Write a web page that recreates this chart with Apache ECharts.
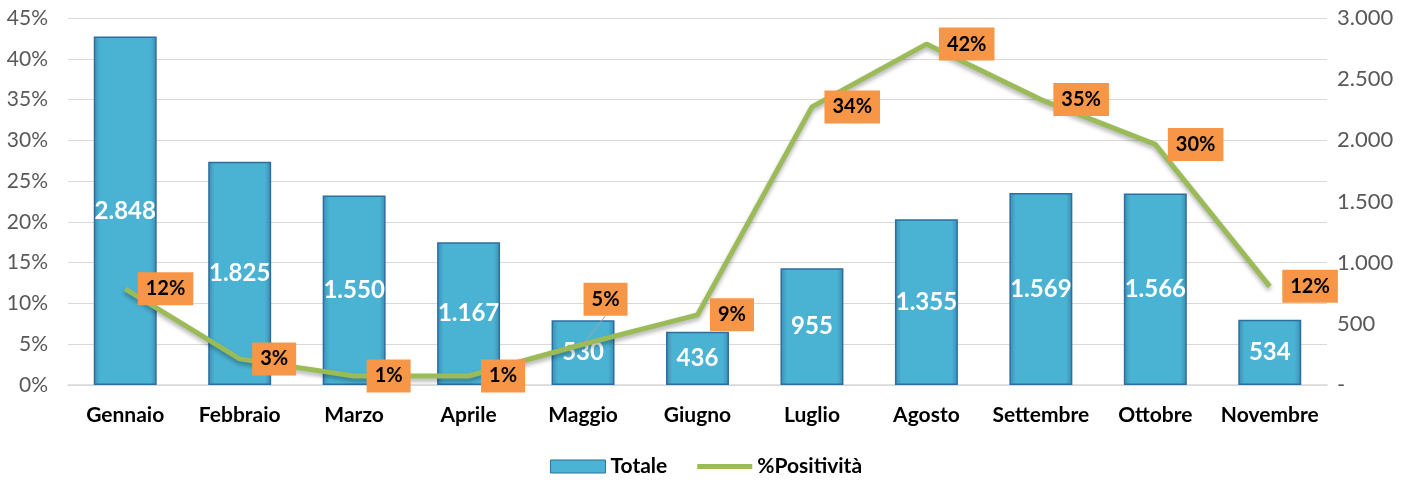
<!DOCTYPE html>
<html>
<head>
<meta charset="utf-8">
<script src="https://cdn.jsdelivr.net/npm/echarts@6/dist/echarts.min.js"></script>
<style>
  html, body { margin: 0; padding: 0; background: #fff; }
</style>
</head>
<body>
<div id="chart" style="width: 1412px; height: 484px"></div>
<script>
// mesi
const months = ["Gennaio", "Febbraio", "Marzo", "Aprile", "Maggio", "Giugno",
  "Luglio", "Agosto", "Settembre", "Ottobre", "Novembre"];
// totale tamponi (asse destro)
const totale = [2848, 1825, 1550, 1167, 530, 436, 955, 1355, 1569, 1566, 534];
// % positività (asse sinistro)
const positivita = [11.8, 3.2, 1.1, 1.1, 5.0, 8.6, 34.1, 41.8, 35.0, 29.5, 12.1];

const font = "Lato";

// separatore migliaia all'italiana
function fmtIt(v) {
  return String(v).replace(/\B(?=(\d{3})+(?!\d))/g, ".");
}

// etichetta di maggio spostata sopra, con linea guida
const lineData = positivita.map((v, i) =>
  i === 4 ? { value: v, labelLine: { show: true } } : v
);

const chart = echarts.init(document.getElementById("chart"));

const option = {
  backgroundColor: "#ffffff",
  textStyle: { fontFamily: font },
  grid: { left: 68, right: 85, top: 18, bottom: 99, containLabel: false },
  legend: {
    bottom: 2,
    left: "center",
    itemGap: 30,
    textStyle: { fontFamily: font, fontSize: 21, fontWeight: "bold", color: "#000" },
    data: [
      { name: "Totale", icon: "rect", itemStyle: { color: "#4bb3d3", borderColor: "#2f6da0", borderWidth: 1, opacity: 1 } },
      { name: "%Positività", icon: "path://M0,0 H110 V10 H0 Z", itemStyle: { color: "#9bbb59", opacity: 1 } }
    ],
    itemWidth: 55,
    itemHeight: 13
  },
  xAxis: {
    type: "category",
    data: months,
    axisLine: { lineStyle: { color: "#d9d9d9", width: 1.5 } },
    axisTick: { show: false },
    axisLabel: { interval: 0, margin: 20, fontFamily: font, fontSize: 21, fontWeight: "bold", color: "#000" }
  },
  yAxis: [
    {
      type: "value",
      min: 0, max: 45, interval: 5,
      axisLine: { show: false },
      axisTick: { show: false },
      splitLine: { lineStyle: { color: "#d9d9d9", width: 1.2 } },
      axisLabel: { margin: 20, fontFamily: font, fontSize: 21, color: "#595959", formatter: "{value}%" }
    },
    {
      type: "value",
      min: 0, max: 3000, interval: 500,
      axisLine: { show: false },
      axisTick: { show: false },
      splitLine: { show: false },
      axisLabel: {
        margin: 10, fontFamily: font, fontSize: 22, color: "#595959", align: "left",
        formatter: function (v) { return v === 0 ? "-" : fmtIt(v); }
      }
    }
  ],
  series: [
    {
      name: "Totale",
      type: "bar",
      yAxisIndex: 1,
      data: totale,
      barWidth: "55%",
      itemStyle: {
        color: new echarts.graphic.LinearGradient(0, 0, 1, 0, [
          { offset: 0, color: "#3a8db3" },
          { offset: 0.1, color: "#4ab2d2" },
          { offset: 0.9, color: "#4ab2d2" },
          { offset: 1, color: "#3a8db3" }
        ]),
        borderColor: "#2f6da0",
        borderWidth: 1.5
      },
      label: {
        show: true,
        position: "inside",
        color: "#ffffff",
        fontFamily: font,
        fontSize: 24,
        fontWeight: "bold",
        formatter: function (p) { return fmtIt(p.value); }
      }
    },
    {
      name: "%Positività",
      type: "line",
      yAxisIndex: 0,
      data: lineData,
      symbol: "circle",
      symbolSize: 1,
      showSymbol: true,
      color: "#9bbb59",
      itemStyle: { color: "#9bbb59", opacity: 0 },
      lineStyle: {
        color: "#9bbb59",
        width: 5,
        shadowColor: "rgba(0,0,0,0.3)",
        shadowBlur: 4,
        shadowOffsetY: 3
      },
      label: {
        show: true,
        position: "right",
        distance: 12,
        opacity: 1,
        backgroundColor: "#f79646",
        padding: [7, 8, 6, 8],
        color: "#000",
        fontFamily: font,
        fontSize: 20,
        fontWeight: "bold",
        formatter: function (p) { return Math.round(p.value) + "%"; }
      },
      labelLine: { show: false, lineStyle: { color: "#a6a6a6", width: 1 } },
      labelLayout: function (params) {
        if (params.dataIndex === 4) {
          return { dx: -12, dy: -45 };
        }
      },
      z: 5
    }
  ]
};

chart.setOption(option);
</script>
</body>
</html>
